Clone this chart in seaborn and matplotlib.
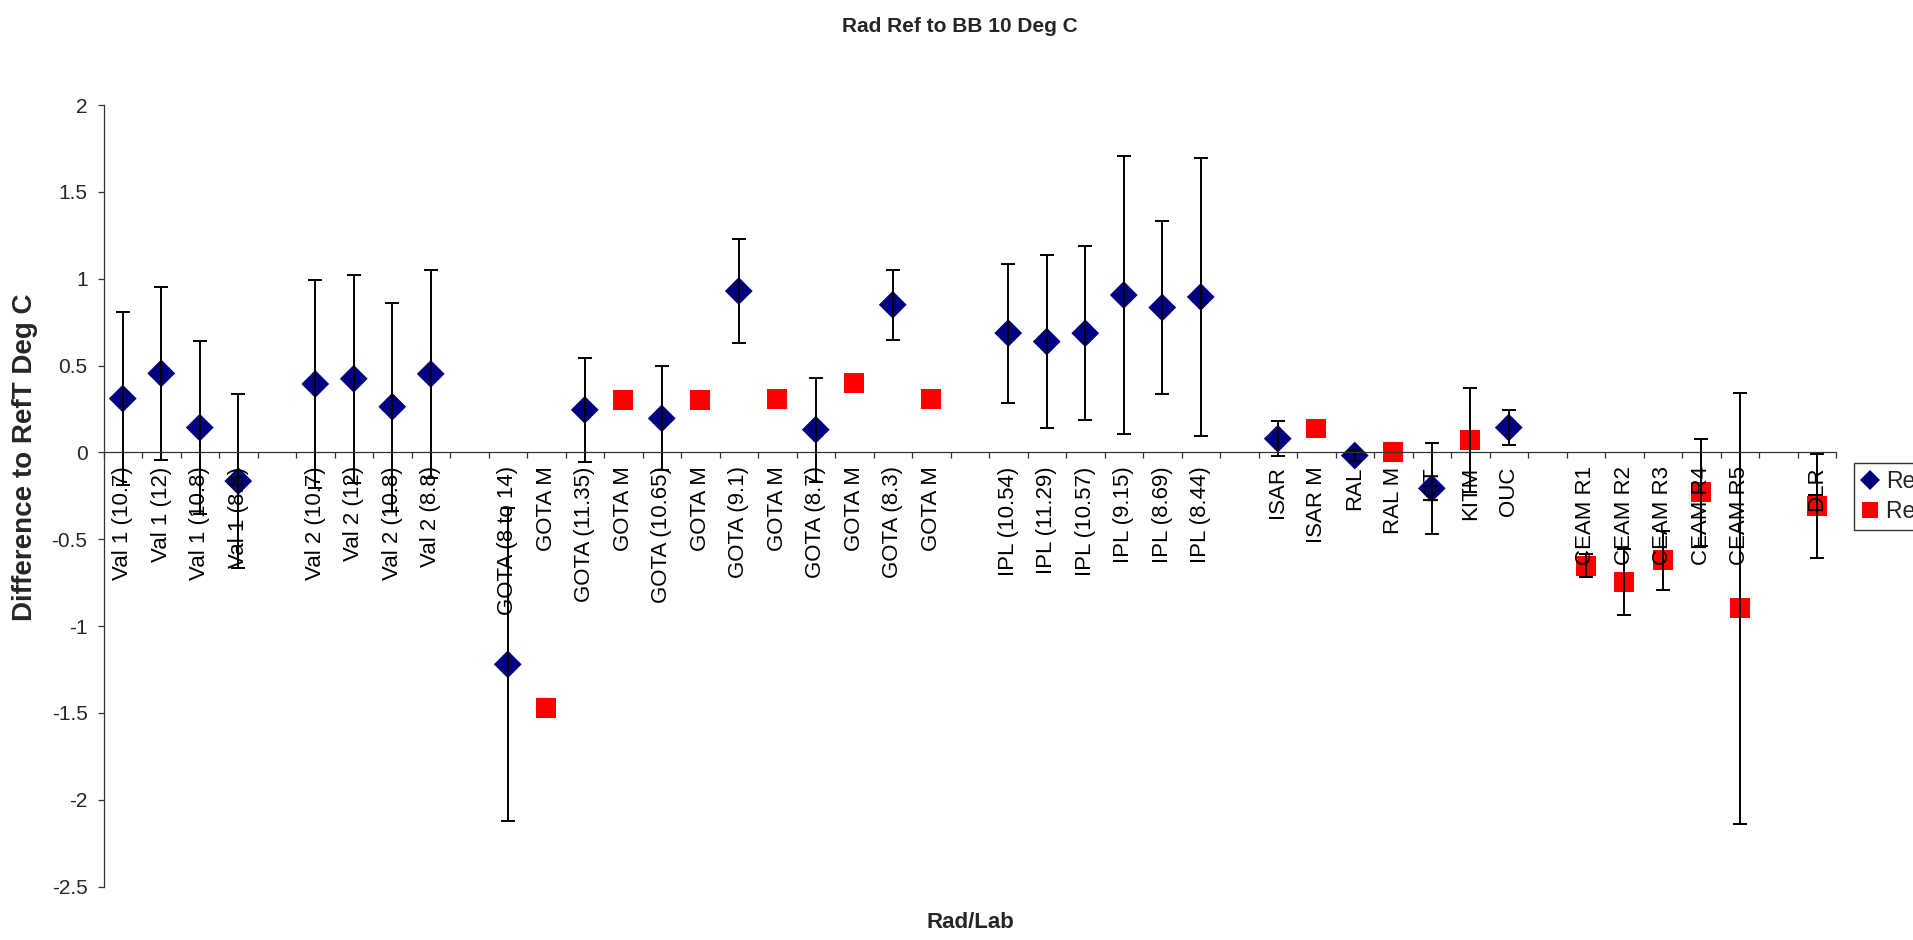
import numpy as np
import pandas as pd
import matplotlib
matplotlib.use("Agg")
import matplotlib.pyplot as plt
from matplotlib.lines import Line2D
from matplotlib.ticker import FuncFormatter
import seaborn as sns

nan = np.nan

# Radiometer / lab categories along the x axis ('' marks a spacer slot)
categories = [
    "Val 1 (10.7)", "Val 1 (12)", "Val 1 (10.8)", "Val 1 (8.8)", "",
    "Val 2 (10.7)", "Val 2 (12)", "Val 2 (10.8)", "Val 2 (8.8)", "",
    "GOTA (8 to 14)", "GOTA M", "GOTA (11.35)", "GOTA M", "GOTA (10.65)", "GOTA M",
    "GOTA (9.1)", "GOTA M", "GOTA (8.7)", "GOTA M", "GOTA (8.3)", "GOTA M", "",
    "IPL (10.54)", "IPL (11.29)", "IPL (10.57)", "IPL (9.15)", "IPL (8.69)", "IPL (8.44)", "",
    "ISAR", "ISAR M", "RAL", "RAL M", "KIT", "KITM", "OUC", "",
    "CEAM R1", "CEAM R2", "CEAM R3", "CEAM R4", "CEAM R5", "", "DLR",
]

# Radiometer results (diamonds) and their uncertainties
rad_diff = [0.31, 0.455, 0.143, -0.165, nan,
            0.394, 0.424, 0.263, 0.452, nan,
            -1.22, nan, 0.245, nan, 0.196, nan, 0.929, nan, 0.131, nan, 0.85, nan, nan,
            0.687, 0.638, 0.686, 0.906, 0.834, 0.895, nan,
            0.079, nan, -0.018, nan, -0.207, nan, 0.143, nan,
            nan, nan, nan, nan, nan, nan, nan]
rad_err = [0.5, 0.5, 0.5, 0.5, nan,
           0.6, 0.6, 0.6, 0.6, nan,
           0.9, nan, 0.3, nan, 0.3, nan, 0.3, nan, 0.3, nan, 0.2, nan, nan,
           0.4, 0.5, 0.5, 0.8, 0.5, 0.8, nan,
           0.1, nan, 0.03, nan, 0.26, nan, 0.1, nan,
           nan, nan, nan, nan, nan, nan, nan]

# Lab measurements (squares) and their uncertainties
lab_diff = [nan, nan, nan, nan, nan,
            nan, nan, nan, nan, nan,
            nan, -1.47, nan, 0.30, nan, 0.30, nan, 0.31, nan, 0.40, nan, 0.31, nan,
            nan, nan, nan, nan, nan, nan, nan,
            nan, 0.138, nan, 0.0, nan, 0.071, nan, nan,
            -0.652, -0.745, -0.62, -0.23, -0.898, nan, -0.309]
lab_err = [nan, nan, nan, nan, nan,
           nan, nan, nan, nan, nan,
           nan, 0.0, nan, 0.0, nan, 0.0, nan, 0.0, nan, 0.0, nan, 0.0, nan,
           nan, nan, nan, nan, nan, nan, nan,
           nan, 0.0, nan, 0.0, nan, 0.3, nan, nan,
           0.065, 0.19, 0.17, 0.31, 1.24, nan, 0.3]

series_names = ["Result", "Result M"]
y_ticks = [-2.5, -2.0, -1.5, -1.0, -0.5, 0.0, 0.5, 1.0, 1.5, 2.0]

W, H = 1913, 940
sns.set_theme(style="white")
plt.rcParams["font.family"] = ["Liberation Sans", "DejaVu Sans"]
plt.rcParams["axes.unicode_minus"] = False

df = pd.DataFrame({
    "pos": np.arange(len(categories)),
    "category": categories,
    "rad": rad_diff, "rad_err": rad_err,
    "lab": lab_diff, "lab_err": lab_err,
})

fig = plt.figure(figsize=(W / 100, H / 100), dpi=100)
x0, x1 = 103.5, 1836.0
ytop, ybot = 105.0, 886.7
ax = fig.add_axes([x0 / W, 1 - ybot / H, (x1 - x0) / W, (ybot - ytop) / H])

navy, red = "#000080", "#FF0000"

sns.scatterplot(data=df, x="pos", y="rad", marker="D", s=200, color=navy,
                edgecolor="none", linewidth=0, ax=ax, zorder=2, legend=False)
sns.scatterplot(data=df, x="pos", y="lab", marker="s", s=205, color=red,
                edgecolor="none", linewidth=0, ax=ax, zorder=2, legend=False)

for val, err in (("rad", "rad_err"), ("lab", "lab_err")):
    sub = df.dropna(subset=[val, err])
    sub = sub[sub[err] > 0]
    ax.errorbar(sub["pos"], sub[val], yerr=sub[err], fmt="none", ecolor="black",
                elinewidth=1.4, capsize=4.8, capthick=1.4, zorder=2.2)

ax.set_xlim(-0.5, len(categories) - 0.5)
ax.set_ylim(-2.5, 2.0)
sns.despine(ax=ax)
ax.set_axisbelow(False)
ax.spines["bottom"].set_position(("data", 0))
for sp in ("left", "bottom"):
    ax.spines[sp].set_color("#333333")
    ax.spines[sp].set_linewidth(0.9)

ax.set_xticks(df["pos"])
ax.set_xticklabels(categories, rotation=90, fontsize=16)
ax.set_xticks(np.arange(-0.5, len(categories), 1.0), minor=True)
ax.tick_params(axis="x", which="major", length=0, pad=10, colors="black")
ax.tick_params(axis="x", which="minor", bottom=True, length=4.5, width=0.9,
               direction="out", color="#333333")

ax.set_yticks(y_ticks)
ax.yaxis.set_major_formatter(FuncFormatter(lambda v, p: f"{v:g}"))
ax.tick_params(axis="y", which="major", left=True, length=4.5, width=0.9,
               direction="out", color="#333333", labelsize=15, pad=7)
ax.grid(False)

ax.set_ylabel("Difference to RefT Deg C", fontsize=20, fontweight="bold", va="center")
ax.yaxis.set_label_coords(25 / W, 1 - 457 / H, transform=fig.transFigure)
ax.set_xlabel("Rad/Lab", fontsize=16, fontweight="bold", va="center")
ax.xaxis.set_label_coords(970 / W, 1 - 923 / H, transform=fig.transFigure)

fig.text(960 / W, 1 - 26 / H, "Rad Ref to BB 10 Deg C", ha="center", va="center",
         fontsize=15, fontweight="bold")

handles = [
    Line2D([], [], marker="D", linestyle="none", color=navy, markeredgewidth=0, markersize=10.5),
    Line2D([], [], marker="s", linestyle="none", color=red, markeredgewidth=0, markersize=11.5),
]
leg = ax.legend(handles, series_names, loc="upper left",
                bbox_to_anchor=(1854 / W, 1 - 463 / H), bbox_transform=fig.transFigure,
                frameon=True, fancybox=False, edgecolor="black", fontsize=16.5,
                borderpad=0.3, labelspacing=0.3, handlelength=0.8, handletextpad=0.3,
                borderaxespad=0)
leg.get_frame().set_linewidth(1.0)

fig.savefig("out.png", dpi=100)
